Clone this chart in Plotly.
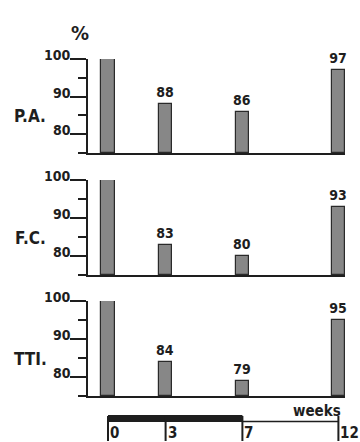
import plotly.graph_objects as go

# ---- data ----
weeks = [0, 3, 7, 12]
panel_names = ["P.A.", "F.C.", "TTI."]
pa_values = [100, 88, 86, 97]
fc_values = [100, 83, 80, 93]
tti_values = [100, 84, 79, 95]
value_labels_show = [False, True, True, True]
treatment_weeks = [0, 7]      # thick bar
followup_weeks = [7, 12]      # thin line
timeline_ticks = [0, 3, 7, 12]
y_tick_vals = [80, 90, 100]
y_minor_vals = [75, 85, 95]
y_range = [75, 100]

series = [pa_values, fc_values, tti_values]

# ---- layout helpers (pixel geometry) ----
W, H = 360, 442
def py(p):
    return 1 - p / H
def px(p):
    return p / W

bar_width = 0.68
x0_px, px_per_week = 108, 19.2
x_left_px = 88
x_range = [(x_left_px - x0_px) / px_per_week, max(weeks) + bar_width / 2]
x_right_px = x0_px + px_per_week * x_range[1]
MAJOR_LEN, MINOR_LEN = 16, 8

def week_at_px(p):
    return (p - x0_px) / px_per_week

panel_px = [(59, 153), (180, 275), (301, 396)]

FONT = "Liberation Sans Narrow, DejaVu Sans Condensed, Arial Narrow, sans-serif"
INK = "#1e1e1e"

fig = go.Figure()
for i, (vals, name) in enumerate(zip(series, panel_names)):
    xa = "x" if i == 0 else f"x{i+1}"
    ya = "y" if i == 0 else f"y{i+1}"
    texts = [str(v) if s else "" for v, s in zip(vals, value_labels_show)]
    fig.add_trace(go.Bar(
        x=weeks, y=[v - y_range[0] for v in vals], base=y_range[0], width=bar_width,
        marker=dict(color="#878787", line=dict(color="#2a2a2a", width=1.2)),
        text=texts, textposition="outside", cliponaxis=False, constraintext="none",
        textfont=dict(family=FONT, size=14, color=INK, weight="bold"),
        xaxis=xa, yaxis=ya, showlegend=False, hoverinfo="skip",
    ))
    # tick marks of the y axis (major long, minor short) drawn as line markers
    for tvals, tlen in ((y_tick_vals, MAJOR_LEN), (y_minor_vals, MINOR_LEN)):
        fig.add_trace(go.Scatter(
            x=[week_at_px(x_left_px - tlen / 2)] * len(tvals), y=tvals,
            mode="markers", cliponaxis=False,
            marker=dict(symbol="line-ew", size=tlen, color=INK,
                        line=dict(color=INK, width=2)),
            xaxis=xa, yaxis=ya, showlegend=False, hoverinfo="skip",
        ))

    top, bot = panel_px[i]
    xkey = "xaxis" if i == 0 else f"xaxis{i+1}"
    ykey = "yaxis" if i == 0 else f"yaxis{i+1}"
    fig.layout[xkey] = dict(
        domain=[px(x_left_px), px(x_right_px)], range=x_range,
        showline=True, linecolor=INK, linewidth=1.5, showticklabels=False,
        ticks="", showgrid=False, zeroline=False, anchor=ya,
    )
    fig.layout[ykey] = dict(
        domain=[py(bot), py(top)], range=y_range, anchor=xa,
        showline=True, linecolor=INK, linewidth=2, showgrid=False, zeroline=False,
        tickvals=y_tick_vals, ticks="outside", ticklen=MAJOR_LEN, tickwidth=2, tickcolor=INK,
        showticklabels=False,
        minor=dict(dtick=5, tick0=75, ticks="outside", ticklen=MINOR_LEN, tickwidth=2, tickcolor=INK),
    )
    for v in y_tick_vals:
        fig.add_annotation(text=str(v), xref="paper", yref=ya, x=px(x_left_px - 15), y=v,
                           showarrow=False, xanchor="right", yanchor="middle", yshift=4,
                           font=dict(family=FONT, size=14, color=INK, weight="bold"))
    fig.add_annotation(
        text=name, xref="paper", yref="paper", x=px(30), y=py((top + bot) / 2 + 10),
        showarrow=False, xanchor="center", yanchor="middle",
        font=dict(family=FONT, size=17, color=INK, weight="bold"),
    )

fig.add_annotation(text="%", xref="paper", yref="paper", x=px(80), y=py(33),
                   showarrow=False, xanchor="center", yanchor="middle",
                   font=dict(family=FONT, size=20, color=INK, weight="bold"))

# ---- timeline (in week coordinates of x3) ----
fig.add_shape(type="rect", xref="x3", yref="paper",
              x0=treatment_weeks[0], x1=treatment_weeks[1], y0=py(422), y1=py(415),
              fillcolor=INK, line=dict(width=0))
fig.add_shape(type="line", xref="x3", yref="paper",
              x0=followup_weeks[0], x1=followup_weeks[1], y0=py(421.5), y1=py(421.5),
              line=dict(color=INK, width=1.5))
for w in timeline_ticks:
    fig.add_shape(type="line", xref="x3", yref="paper",
                  x0=w, x1=w, y0=py(416), y1=py(441),
                  line=dict(color=INK, width=2))
    fig.add_annotation(text=str(w), xref="x3", yref="paper", x=w, y=py(433),
                       showarrow=False, xanchor="left", yanchor="middle", xshift=0,
                       font=dict(family=FONT, size=15, color=INK, weight="bold"))
fig.add_annotation(text="weeks", xref="paper", yref="paper", x=px(317), y=py(411),
                   showarrow=False, xanchor="center", yanchor="middle",
                   font=dict(family=FONT, size=15, color=INK, weight="bold"))

fig.update_layout(
    width=W, height=H, margin=dict(l=0, r=0, t=0, b=0),
    plot_bgcolor="white", paper_bgcolor="white", bargap=0,
)
fig.write_html("out.html", config={"displayModeBar": False},
               post_script="document.body.style.margin='0px';document.body.style.overflow='hidden';")
